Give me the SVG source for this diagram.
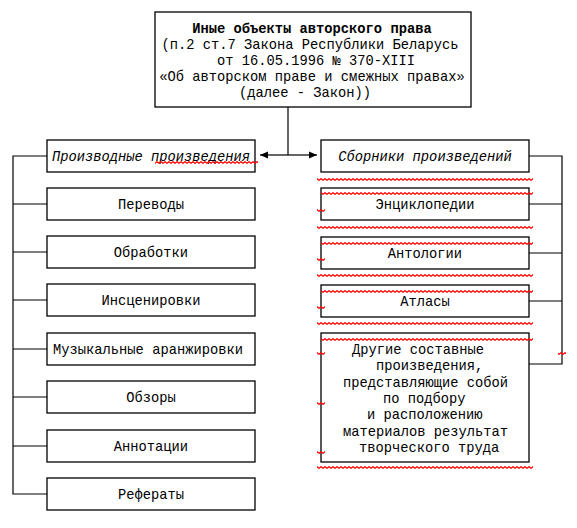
<svg xmlns="http://www.w3.org/2000/svg" width="577" height="528" viewBox="0 0 577 528">
<style>
.box{fill:#fff;stroke:#000;stroke-width:1.3}
.t{font-family:"Liberation Mono","DejaVu Sans Mono",monospace;font-size:13.75px;fill:#000}
.c{text-anchor:middle}
.b{font-weight:bold}
.i{font-style:italic}
.ln{fill:none;stroke:#000;stroke-width:1.2}
.sq{fill:url(#wave)}
</style>
<defs>
<marker id="ah" viewBox="0 0 8 8" refX="8" refY="4" markerWidth="8" markerHeight="8" markerUnits="userSpaceOnUse" orient="auto">
<path d="M0,0.5 L8,4 L0,7.5 Z" fill="#000"/>
</marker>
<pattern id="wave" width="4" height="3" patternUnits="userSpaceOnUse">
<path d="M-1,2.3 L1,0.7 L3,2.3 L5,0.7" fill="none" stroke="#ff0000" stroke-width="1.2"/>
</pattern>
</defs>
<rect width="577" height="528" fill="#fff"/>

<g id="connectors">
<path class="ln" d="M288,107 V155"/>
<path class="ln" d="M288,155 H260" marker-end="url(#ah)"/>
<path class="ln" d="M288,155 H317" marker-end="url(#ah)"/>
<path class="ln" d="M47,156 H13 V494 H47 M13,204 H47 M13,252 H47 M13,300 H47 M13,349 H47 M13,397 H47 M13,446 H47"/>
<path class="ln" d="M529,156 H562 V364 H529 M529,204 H562 M529,253 H562 M529,301 H562"/>
</g>

<g id="n-root">
<rect class="box" x="155" y="12" width="316" height="95"/>
<text class="t c b" x="312" y="33">Иные объекты авторского права</text>
<text class="t c" x="310" y="49">(п.2 ст.7 Закона Республики Беларусь</text>
<text class="t c" x="316" y="65">от 16.05.1996 № 370-XIII</text>
<text class="t c" x="312" y="81">«Об авторском праве и смежных правах»</text>
<text class="t c" x="305" y="97">(далее - Закон))</text>
</g>

<g id="n-derived">
<rect class="box" x="47" y="140" width="208" height="32"/>
<text class="t c i" x="151" y="161">Производные произведения</text>
</g>
<g id="n-translations">
<rect class="box" x="47" y="188" width="208" height="32"/>
<text class="t c" x="151" y="209">Переводы</text>
</g>
<g id="n-adaptations">
<rect class="box" x="47" y="236" width="208" height="32"/>
<text class="t c" x="151" y="257">Обработки</text>
</g>
<g id="n-staging">
<rect class="box" x="47" y="284" width="208" height="32"/>
<text class="t c" x="151" y="305">Инсценировки</text>
</g>
<g id="n-music">
<rect class="box" x="47" y="333" width="208" height="32"/>
<text class="t c" x="148" y="354">Музыкальные аранжировки</text>
</g>
<g id="n-reviews">
<rect class="box" x="47" y="381" width="208" height="32"/>
<text class="t c" x="151" y="402">Обзоры</text>
</g>
<g id="n-annotations">
<rect class="box" x="47" y="430" width="208" height="32"/>
<text class="t c" x="151" y="451">Аннотации</text>
</g>
<g id="n-abstracts">
<rect class="box" x="47" y="478" width="208" height="32"/>
<text class="t c" x="151" y="499">Рефераты</text>
</g>

<g id="n-collections">
<rect class="box" x="321" y="140" width="208" height="32"/>
<text class="t c i" x="425" y="161">Сборники произведений</text>
</g>
<g id="n-encyclopedias">
<rect class="box" x="321" y="188" width="208" height="32"/>
<text class="t c" x="425" y="209">Энциклопедии</text>
</g>
<g id="n-anthologies">
<rect class="box" x="321" y="237" width="208" height="32"/>
<text class="t c" x="425" y="258">Антологии</text>
</g>
<g id="n-atlases">
<rect class="box" x="321" y="285" width="208" height="32"/>
<text class="t c" x="425" y="306">Атласы</text>
</g>
<g id="n-other">
<rect class="box" x="321" y="333" width="208" height="129"/>
<text class="t" x="352" y="354">Другие составные</text>
<text class="t" x="376" y="370.3">произведения,</text>
<text class="t" x="343" y="386.6">представляющие собой</text>
<text class="t" x="383" y="402.9">по подбору</text>
<text class="t" x="367" y="419.2">и расположению</text>
<text class="t" x="343" y="435.5">материалов результат</text>
<text class="t" x="359" y="451.8">творческого труда</text>
</g>

<g id="spellcheck-marks">
<rect class="sq" x="155" width="103" height="3" transform="translate(0,161)"/>
<rect class="sq" x="317" width="216" height="3" transform="translate(0,178)"/>
<rect class="sq" x="321" width="212" height="3" transform="translate(0,192)"/>
<rect class="sq" x="317" width="8" height="3" transform="translate(0,209)"/>
<rect class="sq" x="317" width="216" height="3" transform="translate(0,226)"/>
<rect class="sq" x="321" width="212" height="3" transform="translate(0,242)"/>
<rect class="sq" x="317" width="8" height="3" transform="translate(0,258)"/>
<rect class="sq" x="317" width="216" height="3" transform="translate(0,274)"/>
<rect class="sq" x="321" width="212" height="3" transform="translate(0,290)"/>
<rect class="sq" x="317" width="8" height="3" transform="translate(0,306)"/>
<rect class="sq" x="317" width="216" height="3" transform="translate(0,322)"/>
<rect class="sq" x="321" width="212" height="3" transform="translate(0,338)"/>
<rect class="sq" x="317" width="8" height="3" transform="translate(0,352)"/>
<rect class="sq" x="558" width="8" height="3" transform="translate(0,352)"/>
<rect class="sq" x="317" width="8" height="3" transform="translate(0,402)"/>
<rect class="sq" x="317" width="8" height="3" transform="translate(0,451)"/>
<rect class="sq" x="317" width="216" height="3" transform="translate(0,466)"/>
</g>
</svg>
